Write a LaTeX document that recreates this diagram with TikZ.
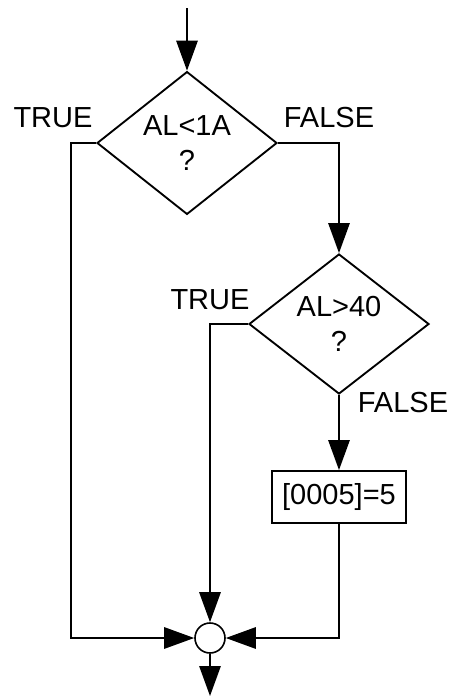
\documentclass[tikz,border=0pt]{standalone}
\usepackage{fontspec}
\setmainfont{Liberation Sans}
\usetikzlibrary{arrows.meta,shapes.geometric}
\begin{document}
\begin{tikzpicture}[x=0.75pt,y=-0.75pt,
  every node/.style={font=\fontsize{21.75}{26.25}\selectfont},
  decision/.style={draw,diamond,line width=1.4pt,minimum width=135pt,minimum height=105pt,inner sep=0pt,align=center},
  process/.style={draw,rectangle,line width=1.4pt,minimum width=101pt,minimum height=39pt,inner sep=0pt},
  junction/.style={draw,circle,line width=1.2pt,minimum size=22.5pt,inner sep=0pt},
  flow/.style={line width=1.4pt,-{Triangle[length=22.5pt,width=16pt]}},
  plain/.style={line width=1.4pt},
  lbl/.style={inner sep=0pt}]
  \useasboundingbox (0,0) rectangle (457,696);
  % entry point and exit point
  \coordinate (start) at (187,8);
  \coordinate (stop) at (210,696);
  % decisions, action and merge point
  \node[decision] (d1) at (187,143) {AL<1A\\?};
  \node[decision] (d2) at (339,324) {AL>40\\?};
  \node[process] (act) at (339,497) {[0005]=5};
  \node[junction] (j) at (210,638) {};
  % branch labels
  \node[lbl] (t1) at (53,118) {TRUE};
  \node[lbl] (f1) at (329,118) {FALSE};
  \node[lbl] (t2) at (210,300) {TRUE};
  \node[lbl] (f2) at (403,403) {FALSE};
  % connectors
  \draw[flow] (start) -- (d1.north);
  \draw[flow] (d1.west) -- ++(-25,0) |- (j.west);
  \draw[flow] (d1.east) -| (d2.north);
  \draw[flow] (d2.west) -| (j.north);
  \draw[flow] (d2.south) -- (act.north);
  \draw[flow] (act.south) |- (j.east);
  \draw[flow] (j.south) -- (stop);
\end{tikzpicture}
\end{document}
